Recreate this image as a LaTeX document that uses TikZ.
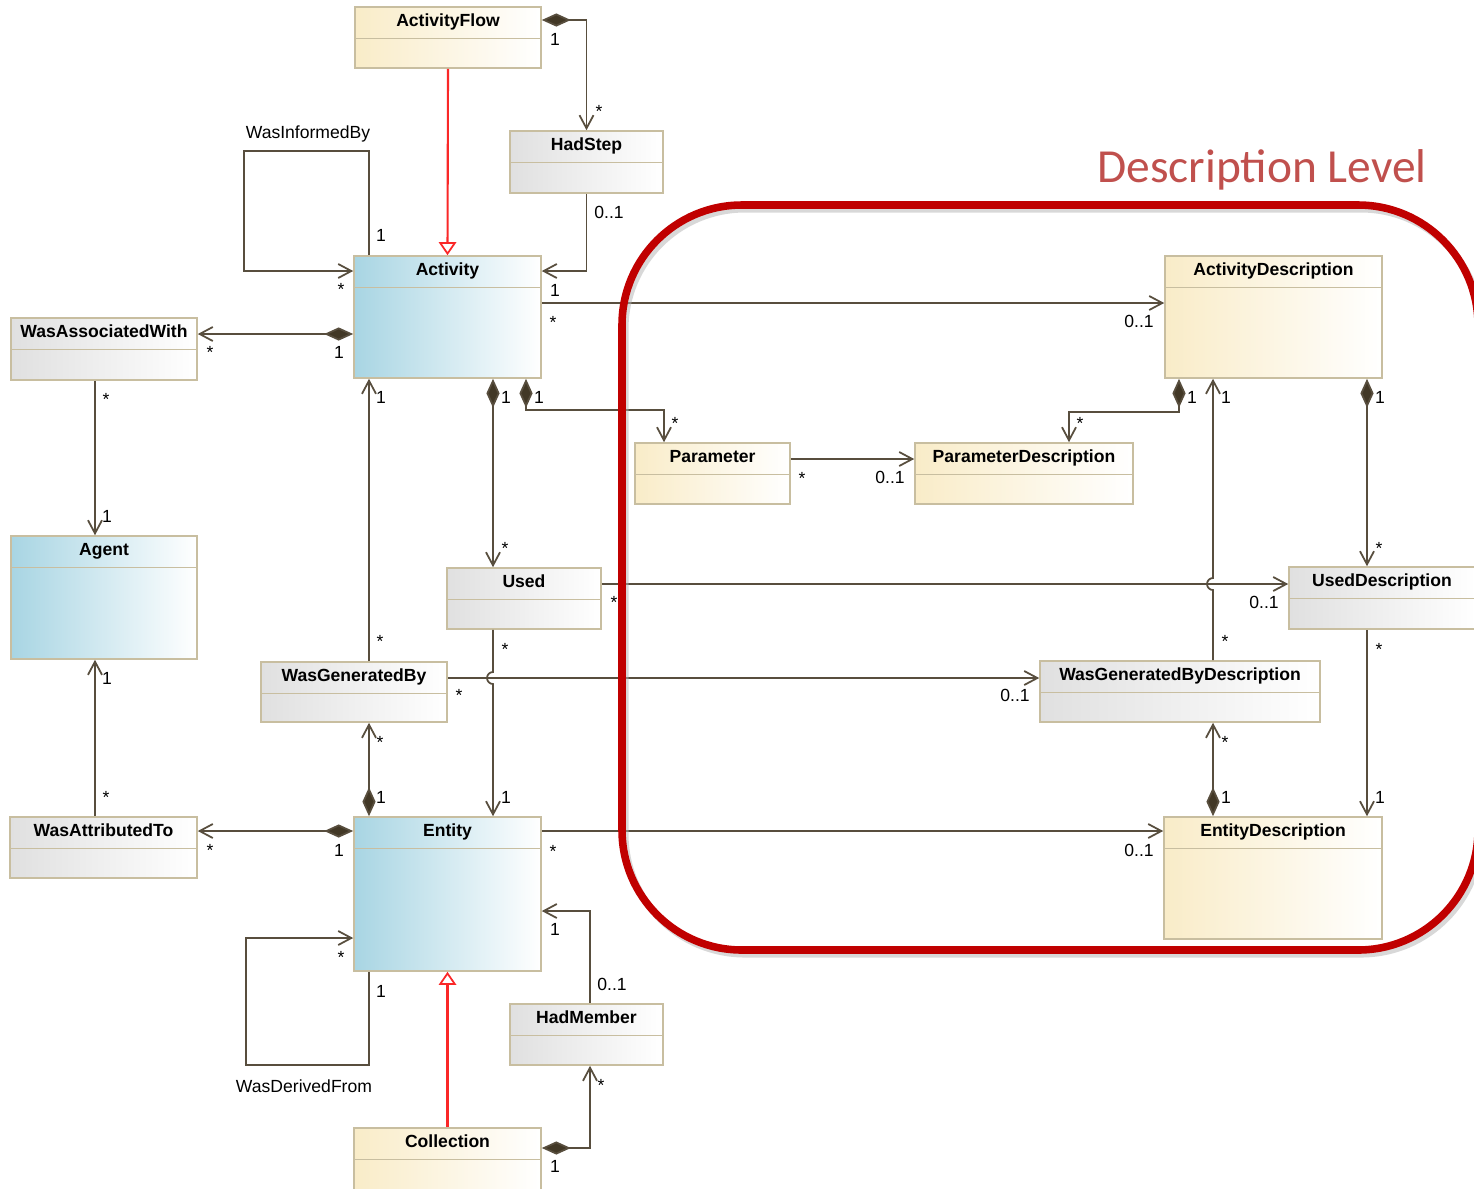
\documentclass[tikz,border=0pt]{standalone}
\usepackage{fontspec}
\setmainfont{Liberation Sans}
\newfontfamily\carlito{Carlito}
\usetikzlibrary{arrows.meta,fit}
\definecolor{linec}{RGB}{88,78,62}
\definecolor{diamc}{RGB}{66,56,38}
\definecolor{clsborder}{RGB}{200,190,160}
\definecolor{blueL}{RGB}{168,213,227}
\definecolor{beigeL}{RGB}{249,236,200}
\definecolor{grayL}{RGB}{224,224,224}
\definecolor{genred}{RGB}{250,40,40}
\definecolor{framered}{RGB}{192,0,0}
\definecolor{titlered}{RGB}{192,80,77}
\tikzset{
  cls/.style={draw=clsborder, line width=0.9pt, inner sep=0pt,
    path picture={\draw[clsborder, line width=0.7pt]
      ([yshift=-0.63cm]path picture bounding box.north west) --
      ([yshift=-0.63cm]path picture bounding box.north east);}},
  bluecls/.style={cls, left color=blueL, right color=white},
  beigecls/.style={cls, left color=beigeL, right color=white},
  graycls/.style={cls, left color=grayL, right color=white},
  hdr/.style={anchor=north, inner sep=0pt, yshift=-4.3pt,
    font=\bfseries\fontsize{10}{12}\selectfont},
  mult/.style={inner sep=0pt, font=\fontsize{10}{12}\selectfont},
  star/.style={mult, yshift=-1.5pt},
  assoc/.style={draw=linec, line width=1pt,
    -{Straight Barb[length=7.5pt,width=8pt]}},
  compose/.style={draw=linec, line width=1pt,
    {Diamond[length=16.5pt,width=7.5pt,fill=diamc]}-{Straight Barb[length=7.5pt,width=8pt]}},
  gen/.style={draw=genred, line width=1.2pt,
    -{Triangle[open,length=7.5pt,width=10pt,line width=1pt]}},
}
\begin{document}
\begin{tikzpicture}[x=0.02cm,y=-0.02cm]
  \useasboundingbox (0,0) rectangle (1474,1188);

  \node[beigecls, fit={(355,7) (541,68)}, label={[hdr]north:ActivityFlow}] (actflow) {};
  \node[graycls, fit={(510,131) (663,193)}, label={[hdr]north:HadStep}] (hadstep) {};
  \node[bluecls, fit={(354,256) (541,378)}, label={[hdr]north:Activity}] (activity) {};
  \node[graycls, fit={(11,318) (197,380)}, label={[hdr]north:WasAssociatedWith}] (wasassoc) {};
  \node[bluecls, fit={(11,536) (197,659)}, label={[hdr]north:Agent}] (agent) {};
  \node[graycls, fit={(447,568) (601,629)}, label={[hdr]north:Used}] (used) {};
  \node[graycls, fit={(261,662) (447,722)}, label={[hdr]north:WasGeneratedBy}] (wasgen) {};
  \node[graycls, fit={(10,817) (197,878)}, label={[hdr]north:WasAttributedTo}] (wasattr) {};
  \node[bluecls, fit={(354,817) (541,971)}, label={[hdr]north:Entity}] (entity) {};
  \node[graycls, fit={(510,1004) (663,1065)}, label={[hdr]north:HadMember}] (hadmember) {};
  \node[beigecls, fit={(354,1128) (541,1190)}, label={[hdr]north:Collection}] (collection) {};
  \node[beigecls, fit={(635,443) (790,504)}, label={[hdr]north:Parameter}] (param) {};
  \node[beigecls, fit={(915,443) (1133,504)}, label={[hdr]north:ParameterDescription}] (paramdesc) {};
  \node[beigecls, fit={(1165,256) (1382,378)}, label={[hdr]north:ActivityDescription}] (actdesc) {};
  \node[graycls, fit={(1289,567) (1475,629)}, label={[hdr]north:UsedDescription}] (useddesc) {};
  \node[graycls, fit={(1040,661) (1320,722)}, label={[hdr]north:WasGeneratedByDescription}] (wgbdesc) {};
  \node[beigecls, fit={(1164,817) (1382,939)}, label={[hdr]north:EntityDescription}] (entdesc) {};

  \begin{scope}
    \draw[compose] (actflow.east |- 0,20) -| (hadstep.north);
    \draw[gen] (actflow.south) -- (activity.north);
    \draw[assoc] (hadstep.south) |- (activity.east |- 0,271);
    \draw[assoc] (activity.north -| 369,0) |- (244,151) |- (activity.west |- 0,271);
    \draw[compose] (activity.west |- 0,334) -- (wasassoc.east |- 0,334);
    \draw[assoc] (wasassoc.south -| 95,0) -- (agent.north -| 95,0);
    \draw[assoc] (wasgen.north -| 369,0) -- (activity.south -| 369,0);
    \draw[compose] (activity.south -| 493,0) -- (used.north -| 493,0);
    \draw[compose] (activity.south -| 526,0) -- (526,410) -| (param.north -| 664,0);
    \draw[assoc] (activity.east |- 0,303) -- (actdesc.west |- 0,303);
    \draw[assoc] (param.east |- 0,459) -- (paramdesc.west |- 0,459);
    \draw[compose] (actdesc.south -| 1179,0) -- (1179,412) -| (paramdesc.north -| 1069,0);
    \draw[assoc] (wgbdesc.north -| 1213,0) -- (1213,590)
      arc[start angle=270, end angle=90, radius=0.12cm] -- (actdesc.south -| 1213,0);
    \draw[compose] (actdesc.south -| 1367,0) -- (useddesc.north -| 1367,0);
    \draw[assoc] (used.east |- 0,584) -- (useddesc.west |- 0,584);
    \draw[assoc] (wasgen.east |- 0,678) -- (wgbdesc.west |- 0,678);
    \draw[assoc] (used.south -| 493,0) -- (493,672)
      arc[start angle=90, end angle=270, radius=0.12cm] -- (entity.north -| 493,0);
    \draw[compose] (entity.north -| 369,0) -- (wasgen.south -| 369,0);
    \draw[assoc] (useddesc.south -| 1367,0) -- (entdesc.north -| 1367,0);
    \draw[compose] (entdesc.north -| 1213,0) -- (wgbdesc.south -| 1213,0);
    \draw[assoc] (entity.east |- 0,831) -- (entdesc.west |- 0,831);
    \draw[compose] (entity.west |- 0,831) -- (wasattr.east |- 0,831);
    \draw[assoc] (wasattr.north -| 95,0) -- (agent.south -| 95,0);
    \draw[assoc] (entity.south -| 369,0) |- (246,1065) |- (entity.west |- 0,938);
    \draw[gen] (collection.north) -- (entity.south);
    \draw[assoc] (hadmember.north -| 590,0) |- (entity.east |- 0,911);
    \draw[compose] (collection.east |- 0,1148) -| (hadmember.south -| 590,0);
  \end{scope}

  \draw[black!30, line width=4pt, rounded corners=2.4cm, opacity=0.5] (625,209) rectangle (1481,954);
  \draw[framered, line width=4.3pt, rounded corners=2.4cm] (622,205) rectangle (1478,950);

  \node[text=titlered, font=\carlito\fontsize{27}{32}\selectfont] (desclevel) at (1262,170) {Description Level};

  \path
    (308,134) node[mult] (rel1) {WasInformedBy}
    (304,1086) node[mult] (rel2) {WasDerivedFrom};

  \path
    (555,39) node[mult] (m1) {1}
    (599,109) node[star] (m2) {*}
    (609,212) node[mult] (m3) {0..1}
    (555,290) node[mult] (m4) {1}
    (381,235) node[mult] (m5) {1}
    (341,287) node[star] (m6) {*}
    (210,350) node[star] (m7) {*}
    (339,352) node[mult] (m8) {1}
    (106,397) node[star] (m9) {*}
    (107,516) node[mult] (m10) {1}
    (380,639) node[star] (m11) {*}
    (381,397) node[mult] (m12) {1}
    (506,397) node[mult] (m13) {1}
    (505,546) node[star] (m14) {*}
    (539,397) node[mult] (m15) {1}
    (675,421) node[star] (m16) {*}
    (553,320) node[star] (m17) {*}
    (1139,321) node[mult] (m18) {0..1}
    (802,476) node[star] (m19) {*}
    (890,477) node[mult] (m20) {0..1}
    (1192,397) node[mult] (m21) {1}
    (1080,421) node[star] (m22) {*}
    (1225,639) node[star] (m23) {*}
    (1226,397) node[mult] (m24) {1}
    (1380,397) node[mult] (m25) {1}
    (1379,546) node[star] (m26) {*}
    (614,600) node[star] (m27) {*}
    (1264,602) node[mult] (m28) {0..1}
    (459,693) node[star] (m29) {*}
    (1015,695) node[mult] (m30) {0..1}
    (505,647) node[star] (m31) {*}
    (506,797) node[mult] (m32) {1}
    (381,797) node[mult] (m33) {1}
    (380,740) node[star] (m34) {*}
    (1379,647) node[star] (m35) {*}
    (1380,797) node[mult] (m36) {1}
    (1226,797) node[mult] (m37) {1}
    (1225,740) node[star] (m38) {*}
    (553,849) node[star] (m39) {*}
    (1139,850) node[mult] (m40) {0..1}
    (210,848) node[star] (m41) {*}
    (339,850) node[mult] (m42) {1}
    (106,795) node[star] (m43) {*}
    (107,678) node[mult] (m44) {1}
    (381,991) node[mult] (m45) {1}
    (341,955) node[star] (m46) {*}
    (555,929) node[mult] (m47) {1}
    (612,984) node[mult] (m48) {0..1}
    (555,1166) node[mult] (m49) {1}
    (601,1083) node[star] (m50) {*};
\end{tikzpicture}
\end{document}
